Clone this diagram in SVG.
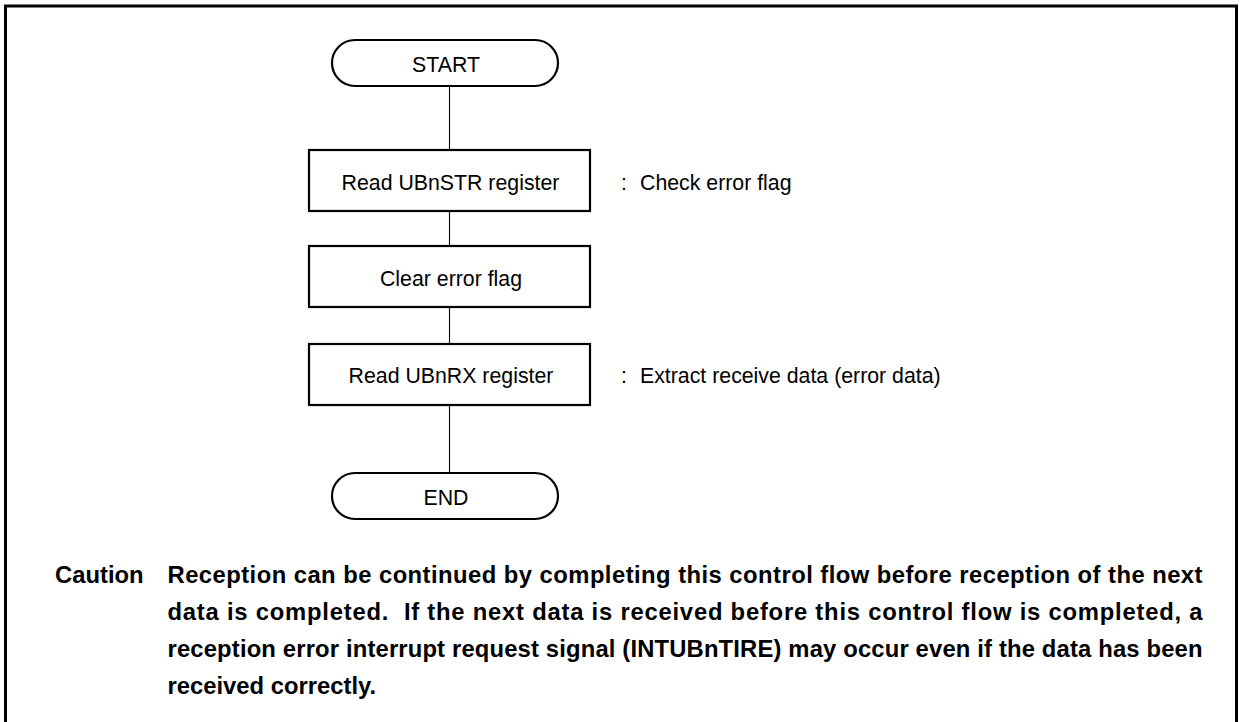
<svg xmlns="http://www.w3.org/2000/svg" width="1241" height="722" viewBox="0 0 1241 722">
<style>
.box{fill:#fff;stroke:#000;stroke-width:2.2}
.ln{stroke:#000;stroke-width:1.1;fill:none}
.t{font-family:"Liberation Sans",Arial,Helvetica,sans-serif;font-size:21.3px;fill:#000}
.m{text-anchor:middle}
.c{font-family:"Liberation Sans",Arial,Helvetica,sans-serif;font-size:23.8px;font-weight:bold;fill:#000}
</style>
<rect width="1241" height="722" fill="#fff"/>
<path d="M5.5,730 V6 H1236.5 V730" fill="none" stroke="#000" stroke-width="3"/>
<g id="connectors">
<line class="ln" x1="449.5" y1="86" x2="449.5" y2="150"/>
<line class="ln" x1="449.5" y1="211" x2="449.5" y2="246"/>
<line class="ln" x1="449.5" y1="307" x2="449.5" y2="344"/>
<line class="ln" x1="449.5" y1="405" x2="449.5" y2="473"/>
</g>
<g id="start"><rect class="box" x="332" y="40" width="226" height="46" rx="23"/><text class="t m" x="446" y="71.5">START</text></g>
<g id="read-str"><rect class="box" x="309" y="150" width="281" height="61"/><text class="t m" x="450.5" y="189.5">Read UBnSTR register</text></g>
<g id="note-str"><text class="t" x="621" y="189.5">:<tspan x="640">Check error flag</tspan></text></g>
<g id="clear"><rect class="box" x="309" y="246" width="281" height="61"/><text class="t m" x="451" y="285.5">Clear error flag</text></g>
<g id="read-rx"><rect class="box" x="309" y="344" width="281" height="61"/><text class="t m" x="451" y="383">Read UBnRX register</text></g>
<g id="note-rx"><text class="t" x="621" y="383">:<tspan x="640">Extract receive data (error data)</tspan></text></g>
<g id="end"><rect class="box" x="332" y="473" width="226" height="46" rx="23"/><text class="t m" x="446" y="505">END</text></g>
<g id="caution">
<text class="c" x="55" y="582.5">Caution</text>
<text class="c" x="167.5" y="582.5" textLength="1035" lengthAdjust="spacing">Reception can be continued by completing this control flow before reception of the next</text>
<text class="c" x="167.5" y="619.5" textLength="1035" lengthAdjust="spacing" xml:space="preserve">data is completed.  If the next data is received before this control flow is completed, a</text>
<text class="c" x="167.5" y="656.5" textLength="1035" lengthAdjust="spacing">reception error interrupt request signal (INTUBnTIRE) may occur even if the data has been</text>
<text class="c" x="167.5" y="693.5">received correctly.</text>
</g>
</svg>
